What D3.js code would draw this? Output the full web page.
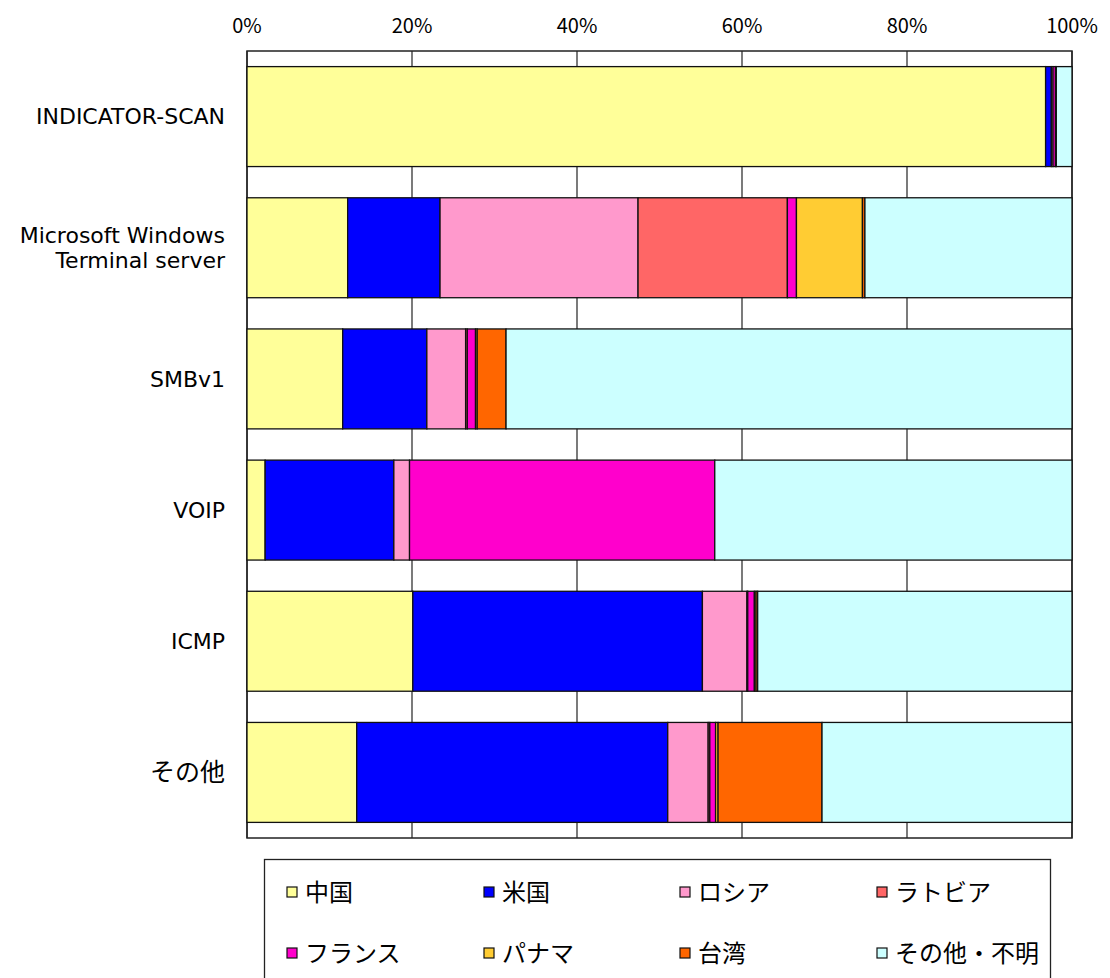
<!DOCTYPE html>
<html>
<head>
<meta charset="utf-8">
<script src="https://cdn.jsdelivr.net/npm/d3@7"></script>
<style>
  body { margin: 0; background: #fff; }
  text { font-family: "Noto Sans CJK JP", "Liberation Sans", sans-serif; fill: #000; }
  .cat-label { font-family: "DejaVu Sans", "Noto Sans CJK JP", sans-serif; }
</style>
</head>
<body>
<svg id="chart" width="1110" height="978"></svg>
<script>
// catégories (lignes du graphique)
var categories = ["INDICATOR-SCAN", "Microsoft Windows|Terminal server", "SMBv1", "VOIP", "ICMP", "その他"];

// séries (pays) en %
var china  = [96.8, 12.2, 11.6,  2.2, 20.1, 13.3];
var usa    = [ 0.7, 11.2, 10.2, 15.6, 35.1, 37.7];
var russia = [ 0.2, 24.0,  4.7,  1.9,  5.4,  4.9];
var latvia = [ 0.0, 18.1,  0.2,  0.0,  0.1,  0.2];
var france = [ 0.3,  1.1,  1.0, 37.0,  0.8,  0.7];
var panama = [ 0.0,  8.0,  0.2,  0.0,  0.2,  0.3];
var taiwan = [ 0.1,  0.3,  3.5,  0.0,  0.2, 12.6];
var others = [ 1.9, 25.1, 68.6, 43.3, 38.1, 30.3];

var seriesNames = ["中国", "米国", "ロシア", "ラトビア", "フランス", "パナマ", "台湾", "その他・不明"];
var seriesValues = [china, usa, russia, latvia, france, panama, taiwan, others];
var seriesColors = ["#FFFF99", "#0000FF", "#FF99CC", "#FF6666", "#FF00CC", "#FFCC33", "#FF6600", "#CCFFFF"];

var tickValues = [0, 20, 40, 60, 80, 100];

var svg = d3.select("#chart");
// attention : "top" est réservé (window.top) -> noms préfixés
var plotLeft = 247, plotRight = 1072, plotTop = 51, plotBottom = 838;

var x = d3.scaleLinear().domain([0, 100]).range([plotLeft, plotRight]);
var y = d3.scaleBand().domain(categories).range([plotTop, plotBottom])
          .paddingInner(0.238).paddingOuter(0.119);

// grille verticale
svg.append("g").selectAll("line")
   .data(tickValues)
   .enter().append("line")
   .attr("x1", d => x(d)).attr("x2", d => x(d))
   .attr("y1", plotTop).attr("y2", plotBottom)
   .style("stroke", "#222").style("stroke-width", 1.2);

// cadre de la zone de tracé
svg.append("rect")
   .attr("x", plotLeft).attr("y", plotTop)
   .attr("width", plotRight - plotLeft).attr("height", plotBottom - plotTop)
   .style("fill", "none").style("stroke", "#222").style("stroke-width", 1.5);

// empilement
var rows = categories.map(function(c, i) {
  var acc = 0;
  return seriesValues.map(function(vals, s) {
    var seg = { cat: c, s: s, x0: acc, x1: acc + vals[i] };
    acc += vals[i];
    return seg;
  });
});

svg.append("g").selectAll("g")
   .data(rows)
   .enter().append("g")
   .selectAll("rect")
   .data(d => d.filter(s => s.x1 - s.x0 > 0))
   .enter().append("rect")
   .attr("x", d => x(d.x0))
   .attr("width", d => x(d.x1) - x(d.x0))
   .attr("y", d => y(d.cat))
   .attr("height", y.bandwidth())
   .style("fill", d => seriesColors[d.s])
   .style("stroke", "#111")
   .style("stroke-width", 1.3);

// axe du haut
svg.append("g").selectAll("text")
   .data(tickValues)
   .enter().append("text")
   .attr("x", d => x(d))
   .attr("y", 33)
   .attr("text-anchor", "middle")
   .style("font-size", "20px")
   .text(d => d + "%");

// libellés des catégories
svg.append("g").selectAll("text")
   .data(categories)
   .enter().append("text")
   .attr("class", "cat-label")
   .attr("text-anchor", "end")
   .attr("x", 225)
   .attr("y", d => y(d) + y.bandwidth() / 2)
   .style("font-size", d => /^[\x00-\x7F|]+$/.test(d) ? "22px" : "25px")
   .each(function(d) {
     var lines = d.split("|");
     var t = d3.select(this);
     lines.forEach(function(l, k) {
       t.append("tspan")
        .attr("x", 225)
        .attr("dy", k === 0 ? (0.35 - (lines.length - 1) * 0.575) + "em" : "1.15em")
        .text(l);
     });
   });

// légende
svg.append("rect")
   .attr("x", 264.5).attr("y", 859.5)
   .attr("width", 786).attr("height", 130)
   .style("fill", "#fff").style("stroke", "#222").style("stroke-width", 1.3);

var legendX = [287, 484, 680, 877];
var legendY = [892, 953];
var leg = svg.append("g").selectAll("g")
   .data(seriesNames)
   .enter().append("g")
   .attr("transform", (d, i) => "translate(" + legendX[i % 4] + "," + legendY[Math.floor(i / 4)] + ")");

leg.append("rect")
   .attr("x", 0).attr("y", -5)
   .attr("width", 10).attr("height", 10)
   .style("fill", (d, i) => seriesColors[i])
   .style("stroke", "#111").style("stroke-width", 1.2);

leg.append("text")
   .attr("x", 18).attr("y", 0)
   .attr("dy", "0.36em")
   .style("font-size", "24px")
   .text(d => d);
</script>
</body>
</html>
